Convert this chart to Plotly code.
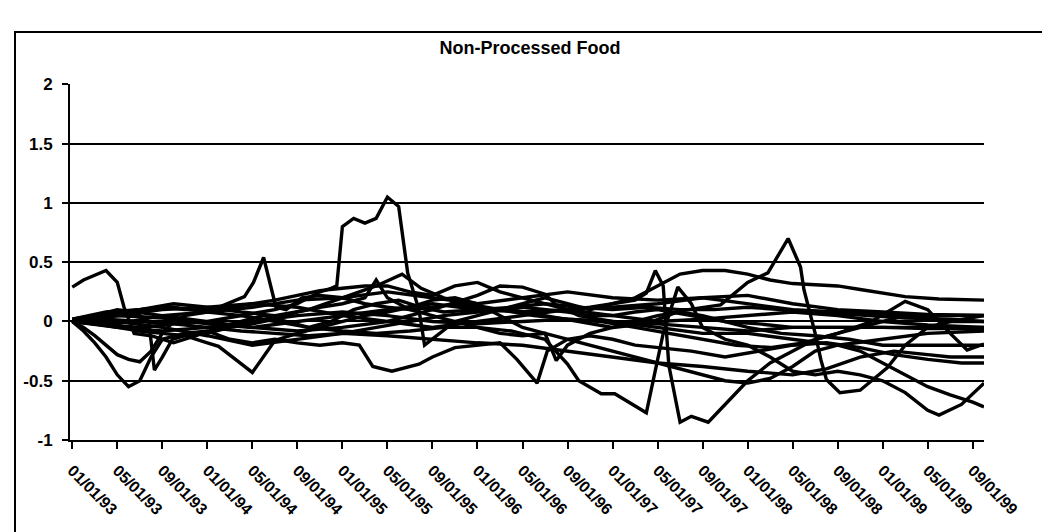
import plotly.graph_objects as go

# ---------------- data (month index 0 = 01/01/93) ----------------
chart_title = "Non-Processed Food"
tick_months = list(range(0, 81, 4))
tick_labels = ["01/01/93", "05/01/93", "09/01/93", "01/01/94", "05/01/94", "09/01/94",
               "01/01/95", "05/01/95", "09/01/95", "01/01/96", "05/01/96", "09/01/96",
               "01/01/97", "05/01/97", "09/01/97", "01/01/98", "05/01/98", "09/01/98",
               "01/01/99", "05/01/99", "09/01/99"]
y_ticks = [-1, -0.5, 0, 0.5, 1, 1.5, 2]
y_labels = ["-1", "-0.5", "0", "0.5", "1", "1.5", "2"]

s1 = [(0, 0.29), (1, 0.35), (3, 0.43), (4, 0.33), (4.6, 0.12), (5.5, -0.1), (7, -0.12), (9, -0.18),
      (11, -0.12), (13, -0.05), (15, 0.0), (17, 0.05), (19, 0.0), (21, -0.05), (23, 0.0), (25, 0.1),
      (27, 0.15), (29, 0.18), (31, 0.12), (33, 0.08), (36, 0.1), (39, 0.12), (42, 0.15), (45, 0.12),
      (48, 0.1), (51, 0.12), (54, 0.1), (57, 0.1), (60, 0.12), (63, 0.1), (66, 0.08), (70, 0.05),
      (74, 0.03), (78, 0.02), (81, 0.0)]
s2 = [(0, 0.0), (1, -0.08), (2, -0.18), (3, -0.3), (4, -0.45), (5, -0.55), (6, -0.5), (7, -0.3),
      (8, -0.15), (10, -0.1), (12, -0.08), (14, -0.15), (16, -0.18), (18, -0.15), (20, -0.18),
      (22, -0.2), (24, -0.18), (25.5, -0.2), (26.7, -0.38), (28.4, -0.42), (30.8, -0.36), (32, -0.3),
      (34, -0.22), (36, -0.2), (38, -0.18), (39.5, -0.32), (41.3, -0.52), (42.2, -0.25), (44, -0.15),
      (46, -0.12), (48, -0.15), (50, -0.2), (52, -0.22), (55, -0.25), (58, -0.3), (61, -0.25),
      (64, -0.2), (67, -0.18), (70, -0.22), (73, -0.28), (76, -0.32), (79, -0.35), (81, -0.35)]
s3 = [(0, 0.0), (1, -0.05), (2, -0.12), (3, -0.2), (4, -0.28), (5, -0.32), (6, -0.34), (7, -0.25),
      (8, -0.1), (9, 0.0), (10, 0.05), (12, 0.08), (14, 0.12), (16, 0.15), (18, 0.18), (20, 0.22),
      (22, 0.26), (24, 0.28), (26, 0.3), (28, 0.3), (30, 0.25), (32, 0.22), (34, 0.3), (36, 0.33),
      (38, 0.25), (40, 0.2), (42, 0.15), (44, 0.1), (46, 0.12), (48, 0.15), (50, 0.2), (52, 0.3),
      (54, 0.4), (56, 0.43), (58, 0.43), (60, 0.4), (62, 0.35), (64, 0.32), (66, 0.31), (68, 0.3),
      (70, 0.27), (72, 0.24), (74, 0.21), (77, 0.19), (81, 0.18)]
s4 = [(0, 0.0), (2, 0.03), (4, 0.05), (6, 0.05), (6.8, 0.0), (7.3, -0.41), (8, -0.3), (8.9, -0.15),
      (10, -0.12), (12, -0.1), (14, -0.05), (16, -0.02), (18, 0.02), (20, 0.08), (22, 0.12),
      (24, 0.15), (26, 0.2), (27, 0.35), (28, 0.2), (30, 0.1), (32, 0.05), (34, 0.0), (36, -0.05),
      (38, -0.1), (40, -0.12), (42, -0.1), (43, -0.33), (44, -0.2), (46, -0.1), (48, -0.05), (50, 0.0),
      (52, 0.05), (54, 0.08), (56, 0.05), (58, 0.0), (60, -0.05), (63, -0.1), (66, -0.12),
      (69, -0.15), (72, -0.2), (75, -0.2), (78, -0.2), (81, -0.2)]
s5 = [(0, 0.02), (2, 0.05), (4, 0.08), (6, 0.1), (8, 0.12), (10, 0.1), (12, 0.1), (13, 0.12),
      (14, 0.16), (15.3, 0.21), (16.1, 0.33), (17, 0.54), (18.1, 0.12), (19, 0.1), (20.4, 0.2),
      (22, 0.22), (24, 0.2), (26, 0.15), (28, 0.12), (30, 0.1), (32, 0.12), (34, 0.15), (36, 0.12),
      (38, 0.1), (40, 0.12), (42, 0.1), (44, 0.08), (46, 0.05), (48, 0.05), (50, 0.08), (52, 0.1),
      (55, 0.05), (58, 0.0), (61, -0.02), (64, -0.05), (67, -0.05), (70, -0.05), (74, -0.05),
      (78, -0.05), (81, -0.05)]
s6 = [(0, 0.0), (2, -0.02), (4, -0.05), (6, -0.08), (8, -0.1), (10, -0.12), (12, -0.18), (13, -0.21),
      (14.5, -0.32), (16, -0.43), (18, -0.16), (20, -0.1), (22, -0.05), (24, 0.0), (26, 0.05),
      (28, 0.08), (30, 0.12), (32, 0.18), (34, 0.2), (36, 0.15), (38, 0.05), (40, -0.05), (42, -0.1),
      (44, -0.15), (46, -0.2), (48, -0.25), (50, -0.3), (52, -0.35), (54, -0.4), (56, -0.45),
      (58, -0.5), (60, -0.52), (62, -0.48), (64, -0.38), (66, -0.25), (68, -0.2), (70, -0.25),
      (72, -0.35), (74, -0.45), (76, -0.55), (78, -0.62), (80, -0.68), (81, -0.72)]
s7 = [(0, 0.0), (4, 0.05), (8, 0.1), (12, 0.12), (16, 0.15), (20, 0.12), (24, 0.05), (28, 0.0),
      (32, -0.05), (36, 0.0), (40, 0.05), (44, 0.1), (48, 0.12), (52, 0.15), (56, 0.2), (60, 0.15),
      (64, 0.1), (68, 0.08), (72, 0.06), (76, 0.05), (81, 0.05)]
s8 = [(0, 0.0), (4, -0.05), (8, -0.08), (12, -0.05), (16, 0.0), (20, 0.05), (24, 0.08), (28, 0.05),
      (32, 0.0), (36, -0.02), (40, 0.0), (44, 0.02), (48, 0.0), (52, -0.02), (56, -0.05),
      (60, -0.08), (64, -0.05), (68, -0.05), (72, -0.05), (76, -0.06), (81, -0.06)]
s9 = [(0, 0.02), (3, 0.08), (6, 0.1), (9, 0.15), (12, 0.12), (15, 0.08), (18, 0.05), (21, 0.1),
      (24, 0.2), (27, 0.3), (29.3, 0.4), (31, 0.28), (33, 0.2), (35, 0.15), (38, 0.1), (41, 0.05),
      (44, 0.02), (47, 0.0), (50, -0.05), (53, -0.1), (56, -0.15), (59, -0.2), (62, -0.22),
      (65, -0.18), (68, -0.1), (71, 0.0), (74, 0.17), (76, 0.1), (78, -0.1), (79.5, -0.24),
      (81, -0.19)]
s10 = [(0, 0.0), (3, -0.03), (6, -0.05), (9, -0.02), (12, 0.0), (15, 0.05), (18, 0.1), (20, 0.15),
       (22, 0.25), (23, 0.28), (23.5, 0.3), (24, 0.8), (25, 0.87), (26, 0.83), (27, 0.87), (28, 1.05),
       (29, 0.97), (29.8, 0.41), (30.8, 0.1), (31.3, -0.2), (32.4, -0.12), (34, 0.0), (36, 0.05),
       (38, 0.1), (40, 0.15), (42, 0.2), (44, 0.15), (46, 0.1), (48, 0.15), (50, 0.18), (51, 0.24),
       (51.8, 0.43), (52.5, 0.3), (53, -0.37), (54, -0.85), (55, -0.8), (56.5, -0.85), (58, -0.7),
       (60, -0.5), (62, -0.35), (64, -0.25), (66, -0.15), (68, -0.1), (70, -0.05), (72, 0.0),
       (74, 0.05), (76, 0.03), (78, 0.0), (81, 0.0)]
s11 = [(0, 0.0), (3, 0.02), (6, 0.0), (9, -0.02), (12, -0.05), (15, -0.08), (18, -0.1), (21, -0.12),
       (24, -0.1), (27, -0.05), (30, 0.0), (33, 0.05), (36, 0.08), (39, 0.1), (42, 0.05), (45, 0.0),
       (48, -0.05), (51, -0.02), (54, 0.09), (57.6, 0.14), (60, 0.33), (61.8, 0.41), (63.6, 0.7),
       (64.7, 0.46), (65, 0.27), (66, -0.1), (66.5, -0.32), (67, -0.49), (68.2, -0.6), (70, -0.58),
       (72.4, -0.39), (74, -0.2), (76, -0.05), (78, 0.0), (81, 0.05)]
s12 = [(0, 0.0), (3, 0.05), (6, 0.1), (9, 0.12), (12, 0.08), (15, 0.05), (18, 0.0), (21, -0.05),
       (24, -0.08), (27, -0.1), (30, -0.08), (33, -0.05), (36, -0.05), (39, -0.08), (42, -0.15),
       (44, -0.36), (45, -0.5), (47, -0.61), (48.2, -0.61), (50, -0.71), (51, -0.77), (52.5, -0.1),
       (53.8, 0.29), (55, 0.15), (56, -0.05), (58, -0.15), (60, -0.2), (62, -0.3), (64, -0.42),
       (66, -0.45), (68, -0.42), (70, -0.45), (72, -0.5), (74, -0.6), (76, -0.75), (77, -0.79),
       (79, -0.7), (81, -0.52)]
s13 = [(0, 0.0), (4, 0.1), (8, 0.05), (12, 0.0), (16, -0.05), (20, -0.08), (24, -0.05), (28, 0.0),
       (32, 0.1), (36, 0.22), (38, 0.3), (40, 0.29), (42, 0.23), (43, 0.14), (45, 0.05), (48, 0.0),
       (52, -0.05), (56, -0.1), (60, -0.1), (64, -0.15), (68, -0.2), (72, -0.15), (76, -0.1),
       (81, -0.08)]
s14 = [(0, 0.0), (4, -0.02), (8, 0.05), (12, 0.08), (16, 0.12), (20, 0.18), (24, 0.2), (28, 0.25),
       (32, 0.2), (36, 0.15), (40, 0.2), (44, 0.25), (48, 0.2), (52, 0.18), (56, 0.2), (60, 0.22),
       (64, 0.15), (68, 0.1), (72, 0.08), (76, 0.06), (81, 0.05)]
s15 = [(0, 0.0), (4, 0.0), (8, -0.05), (12, -0.12), (16, -0.2), (20, -0.15), (24, -0.1),
       (28, -0.12), (32, -0.15), (36, -0.18), (40, -0.2), (44, -0.25), (48, -0.3), (52, -0.35),
       (56, -0.38), (60, -0.42), (64, -0.45), (67, -0.4), (70, -0.3), (73, -0.25), (76, -0.28),
       (78, -0.3), (81, -0.3)]
s16 = [(0, 0.0), (4, 0.05), (8, 0.03), (12, -0.02), (16, -0.05), (20, 0.0), (24, 0.05), (28, 0.1),
       (32, 0.15), (36, 0.1), (40, 0.08), (44, 0.1), (48, 0.05), (52, 0.0), (56, 0.02), (60, 0.05),
       (64, 0.08), (68, 0.05), (72, 0.0), (76, -0.03), (81, -0.05)]

series = [s1, s2, s3, s4, s5, s6, s7, s8, s9, s10, s11, s12, s13, s14, s15, s16]

# ---------------- figure ----------------
W, H = 1050, 532
ML, MR, MT, MB = 62, 74, 76, 100
PW, PH = W - ML - MR, H - MT - MB

fig = go.Figure()
for i, s in enumerate(series):
    fig.add_trace(go.Scatter(
        x=[p[0] for p in s], y=[p[1] for p in s], mode="lines",
        line=dict(color="black", width=3.4), name="S%d" % (i + 1),
        showlegend=False, hoverinfo="skip"))

font_family = "Liberation Sans, Arial, sans-serif"


def px_to_paper(px, py):
    return (px - ML) / PW, (H - MB - py) / PH


bx0, by0 = px_to_paper(7, 24)
bx1, by1 = px_to_paper(1044, 528)

fig.update_layout(
    width=W, height=H,
    margin=dict(l=ML, r=MR, t=MT, b=MB, pad=0),
    paper_bgcolor="white", plot_bgcolor="white",
    title=dict(text="<b>" + chart_title + "</b>", x=(522 - ML) / PW, xref="paper",
               xanchor="center", y=1 - 40 / H, yanchor="middle",
               font=dict(family=font_family, size=18, color="black")),
    xaxis=dict(range=[-0.2, 81], tickmode="array", tickvals=tick_months,
               ticktext=["<b>" + t + "</b>" for t in tick_labels],
               tickangle=45, ticks="outside", ticklen=7, tickcolor="black", tickwidth=2,
               showline=True, linecolor="black", linewidth=2, showgrid=False, zeroline=False,
               ticklabelstandoff=6,
               tickfont=dict(family=font_family, size=16, color="black")),
    yaxis=dict(range=[-1, 2.004], tickmode="array", tickvals=y_ticks,
               ticktext=["<b>" + t + "</b>" for t in y_labels],
               ticks="outside", ticklen=6, tickcolor="black", tickwidth=2,
               showline=True, linecolor="black", linewidth=2,
               showgrid=True, gridcolor="black", gridwidth=1.5, zeroline=False,
               ticklabelstandoff=6,
               tickfont=dict(family=font_family, size=17, color="black")),
    shapes=[dict(type="rect", xref="paper", yref="paper", x0=bx0, y0=by0, x1=bx1, y1=by1,
                 line=dict(color="black", width=2), fillcolor="rgba(0,0,0,0)", layer="below")],
)

fig.write_html("out.html")
